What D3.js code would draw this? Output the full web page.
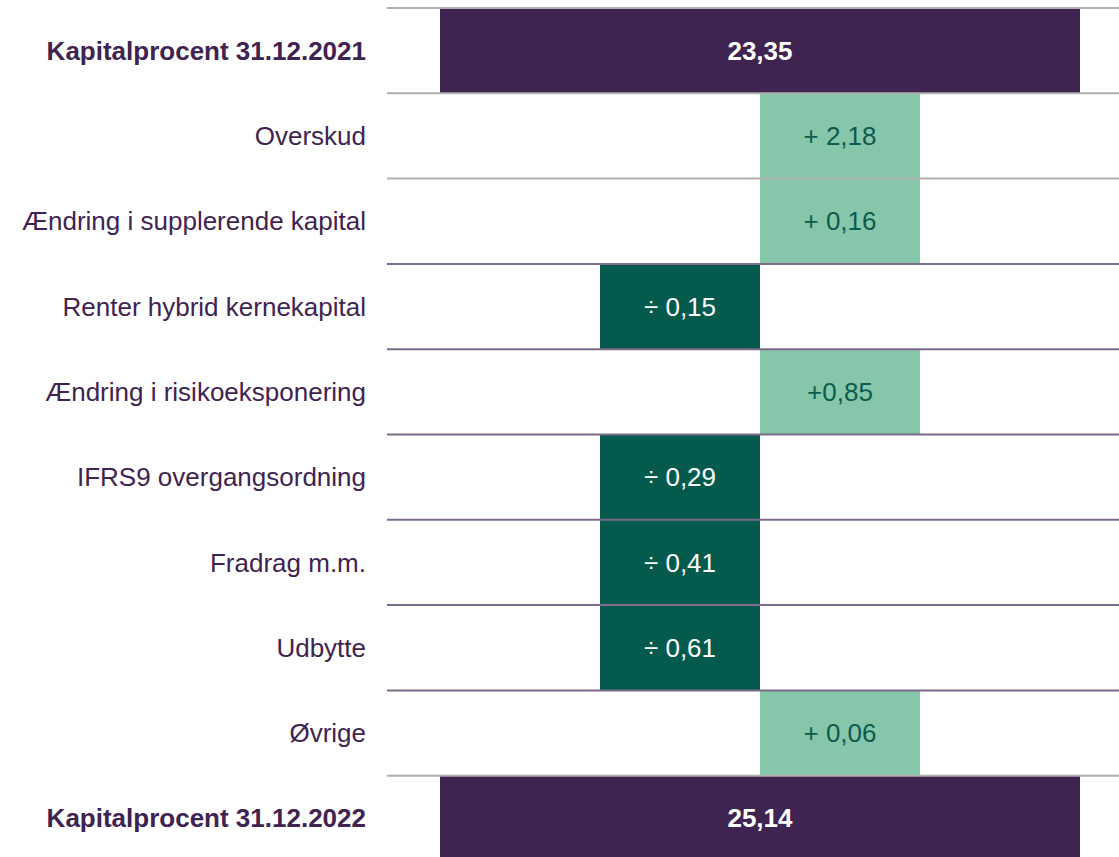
<!DOCTYPE html>
<html>
<head>
<meta charset="utf-8">
<script src="https://cdn.jsdelivr.net/npm/d3@7"></script>
<style>
  body { margin: 0; background: #fff; }
  text { font-family: "Liberation Sans", Arial, sans-serif; }
</style>
</head>
<body>
<div id="chart"></div>
<script>
const categories = [
  "Kapitalprocent 31.12.2021",
  "Overskud",
  "Ændring i supplerende kapital",
  "Renter hybrid kernekapital",
  "Ændring i risikoeksponering",
  "IFRS9 overgangsordning",
  "Fradrag m.m.",
  "Udbytte",
  "Øvrige",
  "Kapitalprocent 31.12.2022"
];
const values = [23.35, 2.18, 0.16, -0.15, 0.85, -0.29, -0.41, -0.61, 0.06, 25.14];
const kinds = ["total", "change", "change", "change", "change", "change", "change", "change", "change", "total"];
const valueLabels = ["23,35", "+ 2,18", "+ 0,16", "÷ 0,15", "+0,85", "÷ 0,29", "÷ 0,41", "÷ 0,61", "+ 0,06", "25,14"];

const width = 1119;
const height = 857;

const svg = d3.select("#chart")
  .append("svg")
  .attr("width", width)
  .attr("height", height);

// bars are symbolic: totals span the full width, changes one step left or right
const x = d3.scaleLinear()
  .domain([-2, 2])
  .range([440, 1080]);

const y = d3.scaleBand()
  .domain(categories)
  .range([8, 8 + 85.3 * categories.length])
  .paddingInner(0);

const rows = categories.map((c, i) => ({
  cat: c, value: values[i], kind: kinds[i], label: valueLabels[i]
}));

const x0 = d => d.kind === "total" ? x(-2) : (d.value < 0 ? x(-1) : x(0));
const x1 = d => d.kind === "total" ? x(2) : (d.value < 0 ? x(0) : x(1));
const fill = d => d.kind === "total" ? "#3f2350" : (d.value < 0 ? "#055a4e" : "#86c6aa");
const textFill = d => d.kind === "total" || d.value < 0 ? "#fff" : "#0b5b4f";

svg.append("g")
  .selectAll("rect")
  .data(rows)
  .join("rect")
  .attr("x", x0)
  .attr("y", d => y(d.cat))
  .attr("width", d => x1(d) - x0(d))
  .attr("height", y.bandwidth())
  .attr("fill", fill);

// horizontal row separators
const bounds = d3.range(categories.length).map(i => y(categories[i]));
svg.append("g")
  .selectAll("line")
  .data(bounds)
  .join("line")
  .attr("x1", 387)
  .attr("x2", width)
  .attr("y1", d => d)
  .attr("y2", d => d)
  .attr("stroke", (d, i) => i >= 3 && i <= 8 ? "#7d6b8c" : "#b0b0b0")
  .attr("stroke-width", 2);

svg.append("g")
  .selectAll("text")
  .data(rows)
  .join("text")
  .attr("x", d => (x0(d) + x1(d)) / 2)
  .attr("y", d => y(d.cat) + y.bandwidth() / 2)
  .attr("dy", "0.35em")
  .attr("text-anchor", "middle")
  .attr("font-size", 26)
  .attr("font-weight", d => d.kind === "total" ? "bold" : "normal")
  .attr("fill", textFill)
  .text(d => d.label);

svg.append("g")
  .selectAll("text")
  .data(rows)
  .join("text")
  .attr("x", 366)
  .attr("y", d => y(d.cat) + y.bandwidth() / 2)
  .attr("dy", "0.35em")
  .attr("text-anchor", "end")
  .attr("font-size", 26)
  .attr("font-weight", d => d.kind === "total" ? "bold" : "normal")
  .attr("fill", "#3f2350")
  .text(d => d.cat);
</script>
</body>
</html>
